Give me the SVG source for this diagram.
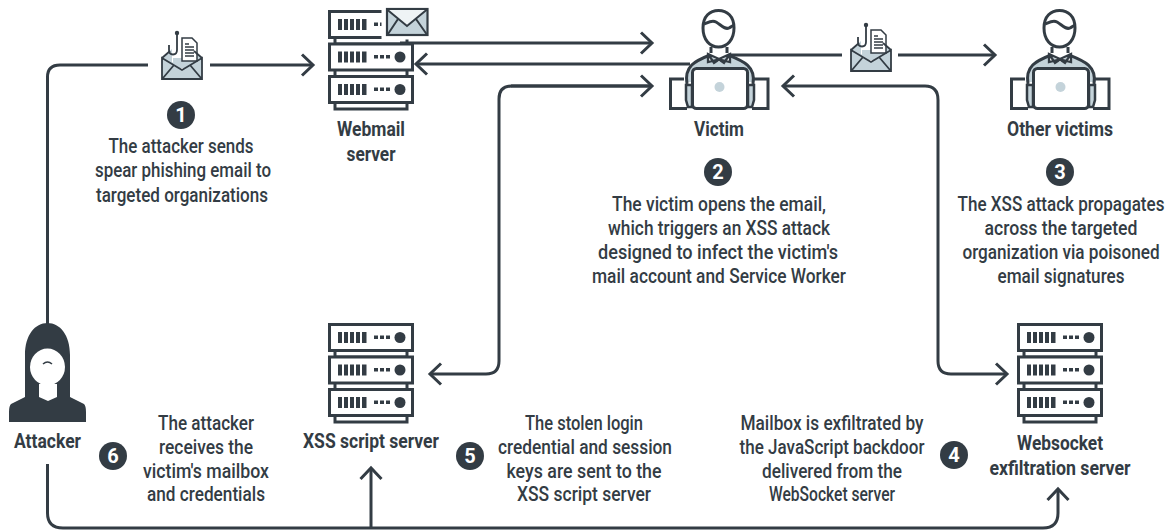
<svg xmlns="http://www.w3.org/2000/svg" width="1172" height="530" viewBox="0 0 1172 530">
<style>
text{font-family:Roboto,"Liberation Sans",sans-serif;fill:#333c44;text-anchor:middle;font-size:20px;font-weight:500}
.lb{font-weight:700}
.num{fill:#fff;font-weight:700;font-size:20px}
.ln{fill:none;stroke:#333c44;stroke-width:3}
.th{fill:none;stroke:#333c44;stroke-width:3}
.tn{fill:none;stroke:#333c44;stroke-width:1.800}
.d{fill:#333c44}
.blue{fill:#c4d3da}
.w{fill:#fff;stroke:#333c44;stroke-width:3}
</style>
<defs>
<marker id="a" markerUnits="userSpaceOnUse" markerWidth="20" markerHeight="26" refX="14" refY="12" orient="auto"><path d="M3 1.500 L14 12 L3 22.500" fill="none" stroke="#333c44" stroke-width="3"/></marker>
<g id="rack">
<rect class="th" x="7" y="26" width="72" height="8"/><rect class="th" x="7" y="59" width="72" height="8"/><rect class="th" x="7" y="92" width="72" height="7"/>
<rect class="w" x="1.500" y="1.500" width="83" height="26"/><rect class="w" x="1.500" y="34" width="83" height="26"/><rect class="w" x="1.500" y="66.500" width="83" height="26"/>
</g>
<g id="led"><path class="d" d="M10 0h4v11h-4zM16 0h4v11h-4zM22 0h4v11h-4zM28 0h4v11h-4zM34 0h4.500v11h-4.500zM46 3.500h4v3.500h-4zM52 3.500h4v3.500h-4z"/></g>
<g id="led3"><use href="#led"/><path class="d" d="M58 3.500h4v3.500h-4z"/><circle class="d" cx="72" cy="5.500" r="5.500"/></g>
<g id="server"><use href="#rack"/><use href="#led3" y="9"/><use href="#led3" y="41.500"/><use href="#led3" y="74"/></g>
<g id="phish">
<path d="M0 28 L10 19 H30 L40 28 V49 H0 Z" class="blue"/>
<path d="M10 19 H30 V32 L20 40 L10 32Z" fill="#fff"/>
<path d="M11 28H30V38H11Z" class="blue"/>
<path d="M20 8H30L35 13V31H20Z" fill="#fff" stroke="#333c44" stroke-width="1.500"/>
<path d="M23 14H27M23 17H32M23 20H32M23 23H32M23 26H32" stroke="#333c44" stroke-width="1.300"/>
<path d="M15 3V20C15 26 7 26 7 20V15" fill="none" stroke="#333c44" stroke-width="1.800"/><circle class="d" cx="15" cy="3" r="2.200"/>
<path d="M0 28L8 21M40 28L32 21M0 28 L20 40 L40 28V49H0ZM1 48 L12 35M39 48 L28 35" class="tn"/>
</g>
<g id="person">
<path d="M41 55 C28 60 16 64 16 82 H86 C86 64 72 60 59 55 L50 62Z" class="blue"/>
<path class="th" d="M18 84 C15 66 26 61 41 55M84 84 C87 66 74 61 59 55"/>
<path class="th" d="M34 28 C34 16 41 10.500 49.500 10.500 C58 10.500 65 16 65 28 C65 40 58 47 49.500 47 C41 47 34 40 34 28Z"/>
<path class="th" d="M35 24 C40 22 43 20 47 22 C52 25 56 30 60 28 C62 27 63 26 65 25"/>
<path d="M42 47V53M58 47V53" class="th"/>
<path d="M39 54 L50 59 L61 54 L61 62 L50 59.500 L39 62Z M39 54L45 63L50 59.500L55 63L61 54" fill="#fff" stroke="#333c44" stroke-width="2.300"/>
<path class="th" d="M15 79 H1.500 V108.500 H18M84 79 H99 V108.500 H83"/>
<path d="M17 85H23V107H19L17 100ZM85 85H79V107H83L85 100Z" fill="#c4d3da" stroke="#333c44" stroke-width="2.500"/>
<rect class="w" x="23.500" y="68.500" width="55" height="40" rx="4"/>
<circle class="blue" cx="50.500" cy="87" r="5"/>
</g>
</defs>

<g id="connectors">
<path class="ln" d="M47.500 325V77Q47.500 65 60 65H148"/>
<path class="ln" d="M210 65H313" marker-end="url(#a)"/>
<path class="ln" d="M400 43H652" marker-end="url(#a)"/>
<path class="ln" d="M690 64H416" marker-end="url(#a)"/>
<path class="ln" d="M730 55H842"/>
<path class="ln" d="M898 55H995" marker-end="url(#a)"/>
<path class="ln" d="M652 86H512Q499 86 499 99V361Q499 374 486 374H430" marker-end="url(#a)"/>
<path class="ln" d="M511 86H652" marker-end="url(#a)"/>
<path class="ln" d="M938 100Q938 86 925 86H783" marker-end="url(#a)"/>
<path class="ln" d="M938 100V361Q938 374 951 374H1007" marker-end="url(#a)"/>
<path class="ln" d="M47.500 464V513Q47.500 528 63 528H1043Q1058 528 1058 513V489" marker-end="url(#a)"/>
<path class="ln" d="M371 528V468" marker-end="url(#a)"/>
</g>

<g id="attacker">
<path class="d" d="M25 355C25 335 35 323 47.500 323C60 323 70 335 70 355V397L84 404Q86 406 86 412V422H9V412Q9 406 11 404L25 397Z"/>
<ellipse cx="47.500" cy="367" rx="17.500" ry="18.500" fill="#fff"/>
<path d="M39 384H57V397L48 401L39 397Z" fill="#fff"/>
<path d="M43 364Q47.500 360 52 364" fill="none" stroke="#333c44" stroke-width="1.500"/>
<text class="lb" x="47.500" y="448" textLength="67" lengthAdjust="spacingAndGlyphs">Attacker</text>
</g>

<g id="mail1"><use href="#phish" x="162" y="30"/></g>
<g id="mail2"><use href="#phish" x="851" y="22"/></g>

<g id="webmail">
<use href="#server" x="328" y="10"/>
<rect x="381.500" y="5" width="50" height="34.500" fill="#fff"/>
<rect x="387" y="9" width="40.500" height="26" class="blue" stroke="#333c44" stroke-width="2.200"/>
<path d="M388 10H426.500L407 26Z" fill="#eef3f5"/>
<path d="M387 9.500L407 26L427 9.500M388 34L398 19M426.500 34L416 19" fill="none" stroke="#333c44" stroke-width="2"/>
<text class="lb" x="371" y="136" textLength="68" lengthAdjust="spacingAndGlyphs">Webmail</text>
<text class="lb" x="371" y="161" textLength="49" lengthAdjust="spacingAndGlyphs">server</text>
</g>

<g id="victim"><use href="#person" x="669"/>
<text class="lb" x="719" y="136" textLength="50" lengthAdjust="spacingAndGlyphs">Victim</text></g>
<g id="other-victims"><use href="#person" x="1010"/>
<text class="lb" x="1060" y="136" textLength="106" lengthAdjust="spacingAndGlyphs">Other victims</text></g>
<g id="xss-server"><use href="#server" x="328" y="323"/>
<text class="lb" x="371" y="448" textLength="136" lengthAdjust="spacingAndGlyphs">XSS script server</text></g>
<g id="ws-server"><use href="#server" x="1017" y="323"/>
<text class="lb" x="1060" y="450" textLength="86" lengthAdjust="spacingAndGlyphs">Websocket</text>
<text class="lb" transform="translate(1060 475) scale(.85 1)" textLength="166" lengthAdjust="spacingAndGlyphs">exfiltration server</text></g>

<g id="step1"><circle class="d" cx="181" cy="115" r="14"/><text class="num" x="181" y="122">1</text>
<text x="181" y="153" textLength="145" lengthAdjust="spacingAndGlyphs">The attacker sends</text>
<text x="183" y="177" textLength="176" lengthAdjust="spacingAndGlyphs">spear phishing email to</text>
<text x="182" y="202" textLength="172" lengthAdjust="spacingAndGlyphs">targeted organizations</text></g>
<g id="step2"><circle class="d" cx="718" cy="172" r="14"/><text class="num" x="718" y="179">2</text>
<text x="719" y="211" textLength="214" lengthAdjust="spacingAndGlyphs">The victim opens the email,</text>
<text x="719" y="235" textLength="222" lengthAdjust="spacingAndGlyphs">which triggers an XSS attack</text>
<text x="718" y="259" textLength="240" lengthAdjust="spacingAndGlyphs">designed to infect the victim's</text>
<text x="719" y="283" textLength="254" lengthAdjust="spacingAndGlyphs">mail account and Service Worker</text></g>
<g id="step3"><circle class="d" cx="1060" cy="172" r="14"/><text class="num" x="1060" y="179">3</text>
<text transform="translate(1061 211) scale(.88 1)" textLength="235" lengthAdjust="spacingAndGlyphs">The XSS attack propagates</text>
<text x="1061" y="235" textLength="153" lengthAdjust="spacingAndGlyphs">across the targeted</text>
<text transform="translate(1061 259) scale(.88 1)" textLength="224" lengthAdjust="spacingAndGlyphs">organization via poisoned</text>
<text x="1061" y="283" textLength="127" lengthAdjust="spacingAndGlyphs">email signatures</text></g>
<g id="step4"><circle class="d" cx="954" cy="455" r="14"/><text class="num" x="954" y="462">4</text>
<text x="832" y="430" textLength="183" lengthAdjust="spacingAndGlyphs">Mailbox is exfiltrated by</text>
<text transform="translate(832 454) scale(.88 1)" textLength="210" lengthAdjust="spacingAndGlyphs">the JavaScript backdoor</text>
<text x="832" y="478" textLength="140" lengthAdjust="spacingAndGlyphs">delivered from the</text>
<text x="832" y="501" textLength="126" lengthAdjust="spacingAndGlyphs">WebSocket server</text></g>
<g id="step5"><circle class="d" cx="470" cy="456" r="14"/><text class="num" x="470" y="463">5</text>
<text x="584" y="430" textLength="118" lengthAdjust="spacingAndGlyphs">The stolen login</text>
<text x="585" y="454" textLength="174" lengthAdjust="spacingAndGlyphs">credential and session</text>
<text x="584" y="478" textLength="155" lengthAdjust="spacingAndGlyphs">keys are sent to the</text>
<text x="584" y="501" textLength="134" lengthAdjust="spacingAndGlyphs">XSS script server</text></g>
<g id="step6"><circle class="d" cx="113" cy="456" r="14"/><text class="num" x="113" y="463">6</text>
<text x="206" y="430" textLength="96" lengthAdjust="spacingAndGlyphs">The attacker</text>
<text x="206" y="454" textLength="94" lengthAdjust="spacingAndGlyphs">receives the</text>
<text x="206" y="478" textLength="126" lengthAdjust="spacingAndGlyphs">victim's mailbox</text>
<text x="206" y="501" textLength="118" lengthAdjust="spacingAndGlyphs">and credentials</text></g>
</svg>
